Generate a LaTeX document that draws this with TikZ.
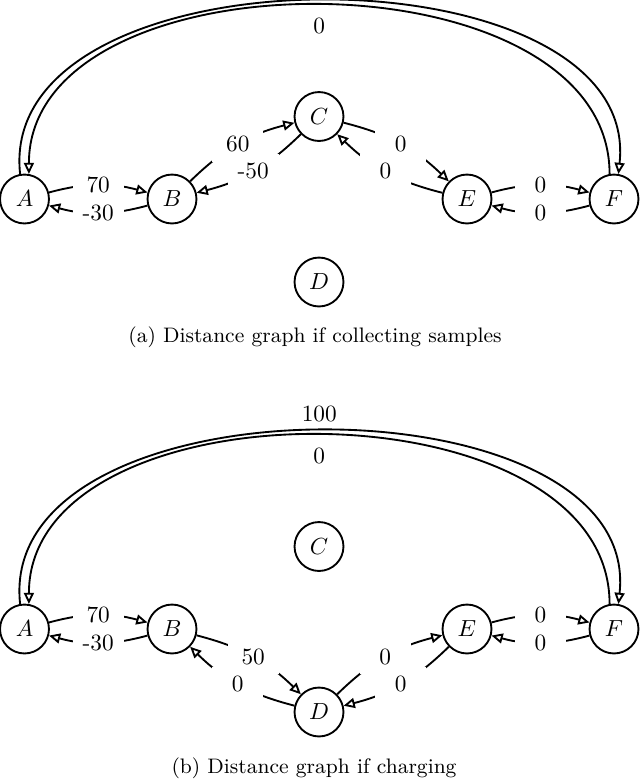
\documentclass[tikz,border=0pt]{standalone}
\usetikzlibrary{arrows.meta}
\begin{document}
\begin{tikzpicture}[x=0.4292pt, y=-0.4292pt,
  vtx/.style={circle, draw, line width=0.8pt, minimum size=21pt, inner sep=0pt},
  arc/.style={line width=0.8pt, -{Triangle[open, length=4.8pt, width=4.3pt]}},
  lbl/.style={fill=white, minimum width=22pt, minimum height=15pt, inner sep=0pt},
  captxt/.style={font=\small, anchor=base}]
\useasboundingbox (0,0) rectangle (640,779);
% ---------- (a) ----------
\node[vtx] (A1) at (24.5,199) {$A$};
\node[vtx] (B1) at (172,199) {$B$};
\node[vtx] (C1) at (319,116.5) {$C$};
\node[vtx] (D1) at (319,282) {$D$};
\node[vtx] (E1) at (467,199) {$E$};
\node[vtx] (F1) at (614,199) {$F$};
\draw[arc] (A1) to[bend left=15] node[lbl] {70} (B1);
\draw[arc] (B1) to[bend left=15] node[lbl] {-30} (A1);
\draw[arc] (B1) to[bend left=15] node[lbl] {60} (C1);
\draw[arc] (C1) to[bend left=15] node[lbl] {-50} (B1);
\draw[arc] (C1) to[bend left=15] node[lbl] {0} (E1);
\draw[arc] (E1) to[bend left=15] node[lbl] {0} (C1);
\draw[arc] (E1) to[bend left=15] node[lbl] {0} (F1);
\draw[arc] (F1) to[bend left=15] node[lbl] {0} (E1);
\draw[arc] (A1.100) .. controls +(-25,-231) and +(25,-231) .. (F1.80);
\draw[arc] (F1.100) .. controls +(0,-225) and +(0,-225) .. (A1.80)
  node[pos=0.5, below=1.6pt] (la) {0};
\node[captxt] (capa) at (315,342) {(a) Distance graph if collecting samples};
% ---------- (b) ----------
\node[vtx] (A2) at (24.5,629) {$A$};
\node[vtx] (B2) at (172,629) {$B$};
\node[vtx] (C2) at (319,546.5) {$C$};
\node[vtx] (D2) at (319,712) {$D$};
\node[vtx] (E2) at (467,629) {$E$};
\node[vtx] (F2) at (614,629) {$F$};
\draw[arc] (A2) to[bend left=15] node[lbl] {70} (B2);
\draw[arc] (B2) to[bend left=15] node[lbl] {-30} (A2);
\draw[arc] (B2) to[bend left=15] node[lbl] {50} (D2);
\draw[arc] (D2) to[bend left=15] node[lbl] {0} (B2);
\draw[arc] (D2) to[bend left=15] node[lbl] {0} (E2);
\draw[arc] (E2) to[bend left=15] node[lbl] {0} (D2);
\draw[arc] (E2) to[bend left=15] node[lbl] {0} (F2);
\draw[arc] (F2) to[bend left=15] node[lbl] {0} (E2);
\draw[arc] (A2.100) .. controls +(-25,-231) and +(25,-231) .. (F2.80)
  node[pos=0.5, above=0pt] (lb1) {100};
\draw[arc] (F2.100) .. controls +(0,-225) and +(0,-225) .. (A2.80)
  node[pos=0.5, below=1.6pt] (lb2) {0};
\node[captxt] (capb) at (314,773) {(b) Distance graph if charging};
\end{tikzpicture}
\end{document}
